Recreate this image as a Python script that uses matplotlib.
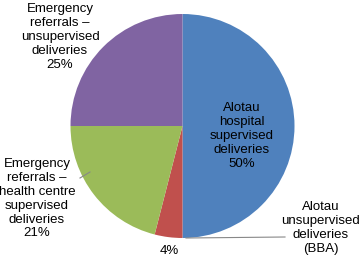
import matplotlib
matplotlib.use("Agg")
import matplotlib.pyplot as plt

plt.rcParams['font.family'] = ['Liberation Sans', 'DejaVu Sans']

labels = ["Alotau\nhospital\nsupervised\ndeliveries\n50%",
          "Alotau\nunsupervised\ndeliveries\n(BBA)",
          "Emergency\nreferrals \u2013\nhealth centre\nsupervised\ndeliveries\n21%",
          "Emergency\nreferrals \u2013\nunsupervised\ndeliveries\n25%"]
values = [50, 4, 21, 25]
colors = ["#4F81BD", "#C0504D", "#9BBB59", "#8064A2"]

# pixel layout of the reference (359x257)
W, H = 359, 257
cx, cy, r = 182.5, 126, 112


def px(x, y):
    return (x - cx) / r, (cy - y) / r


fig = plt.figure(figsize=(W / 100, H / 100), dpi=100)
ax = fig.add_axes([0, 0, 1, 1])
ax.pie(values, colors=colors, startangle=90, counterclock=False,
       wedgeprops=dict(linewidth=0))
ax.set_xlim(-cx / r, (W - cx) / r)
ax.set_ylim((cy - H) / r, cy / r)
ax.set_aspect("auto")
ax.axis("off")

fs = 9.5
ls = 1.2
ax.text(*px(242, 136), labels[0], ha="center", va="center", fontsize=fs, linespacing=ls)
ax.text(*px(321, 228), labels[1], ha="center", va="center", fontsize=fs, linespacing=ls)
ax.text(*px(169, 251), "4%", ha="center", va="center", fontsize=fs)
ax.text(*px(37, 199), labels[2], ha="center", va="center", fontsize=fs, linespacing=ls)
ax.text(*px(60, 37), labels[3], ha="center", va="center", fontsize=fs, linespacing=ls)

# leader lines
ax.plot(*zip(px(186, 238), px(285, 237)), color="#888888", lw=0.8)
ax.plot(*zip(px(80, 178), px(90, 172)), color="#888888", lw=0.8)

fig.savefig("out.png", dpi=100)
